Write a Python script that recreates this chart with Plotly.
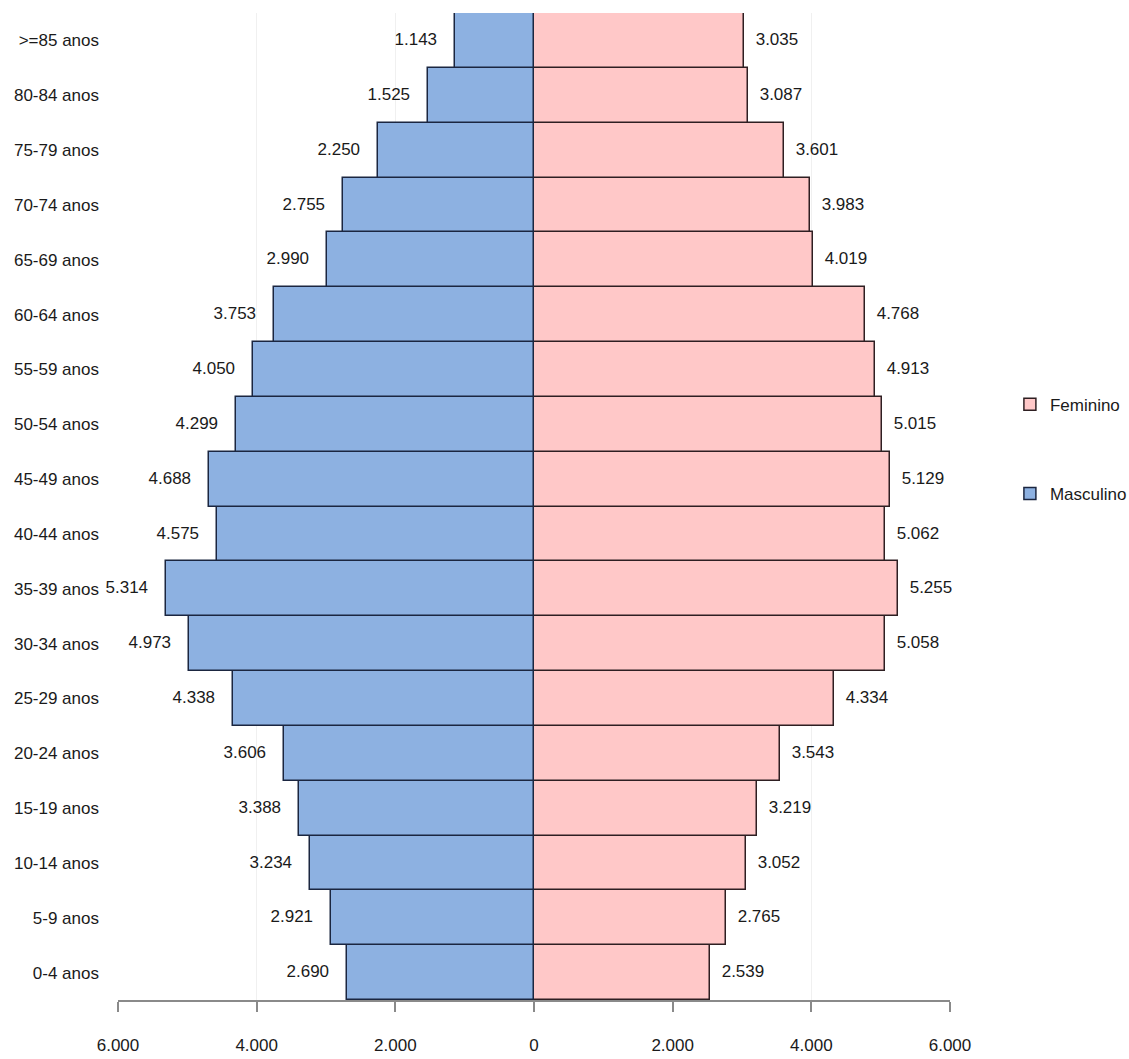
import plotly.graph_objects as go

ages = ["0-4 anos", "5-9 anos", "10-14 anos", "15-19 anos", "20-24 anos", "25-29 anos",
        "30-34 anos", "35-39 anos", "40-44 anos", "45-49 anos", "50-54 anos", "55-59 anos",
        "60-64 anos", "65-69 anos", "70-74 anos", "75-79 anos", "80-84 anos", ">=85 anos"]
masculino = [2690, 2921, 3234, 3388, 3606, 4338, 4973, 5314, 4575, 4688, 4299, 4050,
             3753, 2990, 2755, 2250, 1525, 1143]
feminino = [2539, 2765, 3052, 3219, 3543, 4334, 5058, 5255, 5062, 5129, 5015, 4913,
            4768, 4019, 3983, 3601, 3087, 3035]
tick_vals = [-6000, -4000, -2000, 0, 2000, 4000, 6000]
tick_text = ["6.000", "4.000", "2.000", "0", "2.000", "4.000", "6.000"]

FONT = "Liberation Sans, Arial, sans-serif"
FS = 17
NB = "\u00a0"

fig = go.Figure()
fig.add_trace(go.Bar(
    y=ages, x=feminino, orientation="h", name="Feminino",
    customdata=feminino,
    texttemplate=NB * 2 + "%{customdata:,}",
    textposition="outside", constraintext="none", cliponaxis=False,
    textfont=dict(family=FONT, size=FS, color="#1a1a1a"),
    marker=dict(color="#FFC8C8", line=dict(color="#2e1f22", width=1.5)),
    legendgroup="f",
))
fig.add_trace(go.Bar(
    y=ages, x=[-v for v in masculino], orientation="h", name="Masculino",
    customdata=masculino,
    texttemplate="%{customdata:,}" + NB * 3,
    textposition="outside", constraintext="none", cliponaxis=False,
    textfont=dict(family=FONT, size=FS, color="#1a1a1a"),
    marker=dict(color="#8DB1E1", line=dict(color="#1b2640", width=1.5)),
    legendgroup="m",
))

fig.update_layout(
    width=1129, height=1059,
    margin=dict(l=118, r=179, t=13, b=59, autoexpand=False),
    barmode="overlay", bargap=0,
    separators=",.",
    plot_bgcolor="white", paper_bgcolor="white",
    font=dict(family=FONT, size=FS, color="#1a1a1a"),
    legend=dict(x=1.072, y=0.558, xanchor="left", yanchor="middle",
                traceorder="grouped", tracegroupgap=64,
                font=dict(family=FONT, size=FS, color="#1a1a1a"),
                itemwidth=30, bgcolor="rgba(0,0,0,0)"),
    xaxis=dict(range=[-6000, 6000], tickvals=tick_vals, ticktext=tick_text,
               showgrid=True, gridcolor="#f0f0f0", gridwidth=1, zeroline=False,
               showline=True, linecolor="#8a8a8a", linewidth=1.5,
               ticks="outside", ticklen=10, tickcolor="#8a8a8a", tickwidth=1.5,
               ticklabelstandoff=19, automargin=False, fixedrange=True),
    yaxis=dict(categoryorder="array", categoryarray=ages, range=[-0.5, 17.5],
               showgrid=False, zeroline=False, showline=False, ticks="",
               ticklabelstandoff=18, automargin=False),
    showlegend=True,
)

fig.write_html("out.html")
